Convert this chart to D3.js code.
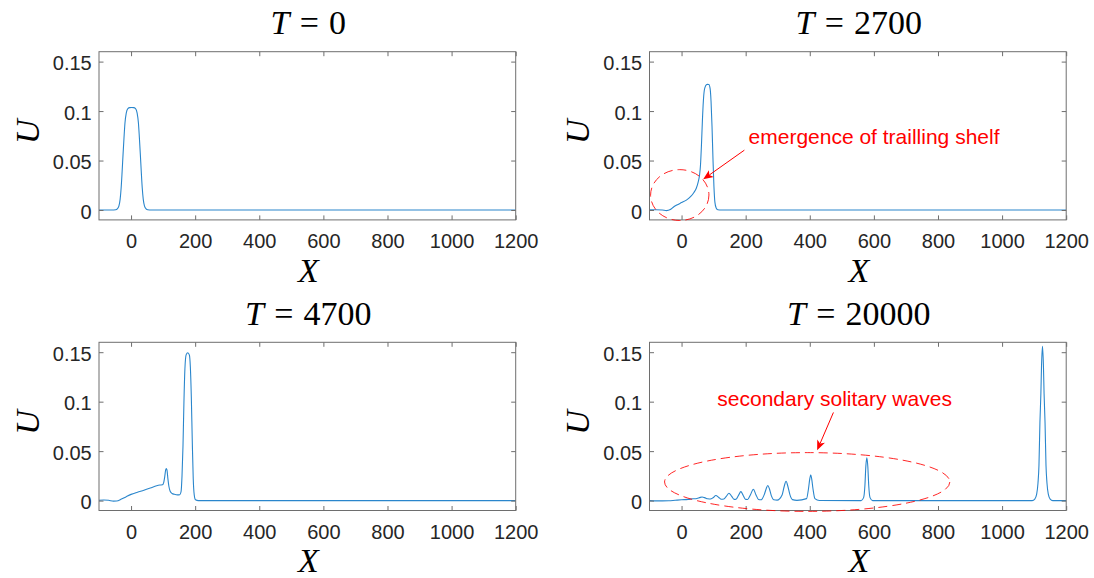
<!DOCTYPE html>
<html>
<head>
<meta charset="utf-8">
<script src="https://cdn.jsdelivr.net/npm/d3@7"></script>
<style>
  html, body { margin: 0; padding: 0; background: #ffffff; }
  svg { display: block; }
</style>
</head>
<body>
<div id="chart"></div>
<script>
// ---------------- data ----------------
const titleTimes = ["0", "2700", "4700", "20000"];
const xDomain = [-100, 1200];
const yDomain = [-0.01, 0.16];
const xTicks = [0, 200, 400, 600, 800, 1000, 1200];
const xTickLabels = ["0", "200", "400", "600", "800", "1000", "1200"];
const yTicks = [0, 0.05, 0.1, 0.15];
const yTickLabels = ["0", "0.05", "0.1", "0.15"];

// T = 0
const x_T0 = [-100, -60, -48, -43, -38, -34, -31, -28, -25, -22, -19, -15, -10, -4, 2, 8, 14, 19, 23, 26, 29, 32, 35, 38, 42, 47, 52, 64, 1200];
const u_T0 = [0, 0, 0.0003, 0.0012, 0.004, 0.011, 0.022, 0.038, 0.056, 0.073, 0.088, 0.098, 0.1025, 0.1035, 0.1036, 0.1035, 0.1025, 0.098, 0.088, 0.073, 0.056, 0.038, 0.022, 0.011, 0.004, 0.0012, 0.0003, 0, 0];

// T = 2700
const x_T2700 = [-100, -80, -60, -47, -35, -25, -15, 0, 15, 28, 38, 46, 52, 56, 59, 62, 65, 68, 71, 75, 80, 85, 89, 92, 95, 98, 101, 104, 108, 113, 125, 1200];
const u_T2700 = [0.0003, 0.0003, 0, -0.0006, 0.0005, 0.003, 0.005, 0.0075, 0.010, 0.0135, 0.0175, 0.022, 0.0285, 0.035, 0.045, 0.065, 0.09, 0.11, 0.121, 0.1255, 0.127, 0.1268, 0.123, 0.11, 0.085, 0.052, 0.024, 0.008, 0.002, 0.0003, 0, 0];

// T = 4700
const x_T4700 = [-100, -85, -70, -55, -45, -30, -15, 0, 20, 40, 60, 80, 90, 98, 102, 105, 108, 110, 112, 115, 118, 122, 128, 135, 145, 152, 156, 159, 162, 165, 168, 172, 177, 182, 185, 188, 191, 194, 197, 201, 210, 1200];
const u_T4700 = [0.0003, 0.0006, 0.0003, -0.0005, -0.0004, 0.0015, 0.004, 0.0063, 0.0085, 0.0105, 0.0127, 0.015, 0.0157, 0.016, 0.0185, 0.024, 0.031, 0.0325, 0.031, 0.022, 0.0145, 0.0095, 0.0072, 0.0064, 0.0058, 0.006, 0.009, 0.025, 0.055, 0.1, 0.133, 0.1475, 0.1495, 0.147, 0.135, 0.105, 0.06, 0.022, 0.006, 0.0008, 0, 0];

// T = 20000
const x_T20000 = [-100, -60, -40, -20, 0, 20, 35, 48, 56, 64, 72, 82, 90, 98, 107, 116, 124, 132, 140, 148, 156, 164, 170, 178, 185, 192, 200, 206, 215, 224, 232, 240, 248, 258, 264, 269, 274, 280, 288, 298, 314, 320, 326, 332, 338, 346, 360, 390, 396, 400, 403, 406, 410, 416, 430, 560, 568, 572, 575, 578, 581, 584, 588, 596, 1094, 1102, 1108, 1112, 1115, 1118, 1121, 1123, 1126, 1129, 1131, 1134, 1137, 1140, 1144, 1150, 1158, 1200];
const u_T20000 = [0, -0.0003, -0.0002, 0.0003, 0.0008, 0.0012, 0.0018, 0.0022, 0.003, 0.0037, 0.003, 0.0018, 0.0016, 0.0028, 0.0051, 0.0032, 0.0014, 0.0016, 0.0045, 0.0074, 0.0045, 0.0012, 0.0014, 0.0055, 0.0091, 0.0055, 0.0012, 0.0011, 0.006, 0.0115, 0.006, 0.0012, 0.0008, 0.006, 0.012, 0.0152, 0.012, 0.005, 0.0008, 0.0005, 0.006, 0.014, 0.0196, 0.014, 0.006, 0.001, 0.0002, 0.002, 0.012, 0.022, 0.0261, 0.022, 0.012, 0.002, 0.0001, 0, 0.003, 0.015, 0.035, 0.0433, 0.035, 0.015, 0.003, 0, 0, 0.0015, 0.0068, 0.0178, 0.0354, 0.0787, 0.108, 0.136, 0.156, 0.136, 0.108, 0.0787, 0.0354, 0.0178, 0.0068, 0.0015, 0, 0];

const seriesX = [x_T0, x_T2700, x_T4700, x_T20000];
const seriesU = [u_T0, u_T2700, u_T4700, u_T20000];

// annotations (in data units of their panel)
const annoText = ["emergence of trailling shelf", "secondary solitary waves"];
const annoPanel = [1, 3];

// ---------------- layout ----------------
const W = 1094, H = 578;
const panelLeft = [99, 649.5, 99, 649.5];
const panelTop = [51.7, 51.7, 342.3, 342.3];
const pw = 416.7, ph = 168.2;

const axisColor = "#262626";
const boxColor = "#6e6e6e";
const lineColor = "#2a86cc";
const red = "#ff0000";
const tickLen = 4.5;

const svg = d3.select("#chart").append("svg")
  .attr("width", W).attr("height", H)
  .attr("viewBox", `0 0 ${W} ${H}`);

const scales = [];

for (let i = 0; i < 4; i++) {
  const g = svg.append("g").attr("transform", `translate(${panelLeft[i]},${panelTop[i]})`);
  const x = d3.scaleLinear().domain(xDomain).range([0, pw]);
  const y = d3.scaleLinear().domain(yDomain).range([ph, 0]);
  scales.push({x, y, g});

  svg.append("clipPath").attr("id", "clip" + i)
    .append("rect").attr("x", 0).attr("y", 0).attr("width", pw).attr("height", ph);

  const pts = seriesX[i].map((xv, k) => [xv, seriesU[i][k]]);
  const line = d3.line().x(d => x(d[0])).y(d => y(d[1])).curve(d3.curveMonotoneX);
  g.append("path")
    .attr("d", line(pts))
    .attr("fill", "none")
    .attr("stroke", lineColor)
    .attr("stroke-width", 1.1)
    .attr("clip-path", `url(#clip${i})`);

  const fmtX = d => xTickLabels[xTicks.indexOf(d)];
  const fmtY = d => yTickLabels[yTicks.indexOf(d)];

  const bottom = g.append("g").attr("transform", `translate(0,${ph})`)
    .call(d3.axisBottom(x).tickValues(xTicks).tickFormat(fmtX).tickSizeInner(-tickLen).tickSizeOuter(0).tickPadding(13.8));
  const top = g.append("g")
    .call(d3.axisTop(x).tickValues(xTicks).tickFormat("").tickSizeInner(-tickLen).tickSizeOuter(0));
  const left = g.append("g")
    .call(d3.axisLeft(y).tickValues(yTicks).tickFormat(fmtY).tickSizeInner(-tickLen).tickSizeOuter(0).tickPadding(7.3));
  const right = g.append("g").attr("transform", `translate(${pw},0)`)
    .call(d3.axisRight(y).tickValues(yTicks).tickFormat("").tickSizeInner(-tickLen).tickSizeOuter(0));

  [bottom, top, left, right].forEach(a => {
    a.select(".domain").remove();
    a.selectAll(".tick line").attr("stroke", boxColor).attr("stroke-width", 1);
    a.selectAll("text")
      .attr("fill", axisColor)
      .style("font-family", "'Liberation Sans', Arial, sans-serif")
      .style("font-size", "20px");
  });
  left.selectAll("text").attr("dy", "0.40em");

  g.append("rect")
    .attr("x", 0).attr("y", 0).attr("width", pw).attr("height", ph)
    .attr("fill", "none").attr("stroke", boxColor).attr("stroke-width", 1);

  // title  T = value
  const t = g.append("text")
    .attr("x", pw / 2 + 1).attr("y", -17.4)
    .attr("text-anchor", "middle")
    .style("font-family", "'Liberation Serif', 'Times New Roman', serif")
    .style("font-size", "34px")
    .attr("fill", "#000");
  t.append("tspan").style("font-style", "italic").text("T");
  t.append("tspan").attr("dx", "0.3em").text("=");
  t.append("tspan").attr("dx", "0.3em").text(titleTimes[i]);

  // x label
  g.append("text")
    .attr("x", pw / 2 + 1).attr("y", ph + 62)
    .attr("text-anchor", "middle")
    .style("font-family", "'Liberation Serif', 'Times New Roman', serif")
    .style("font-size", "34px").style("font-style", "italic")
    .attr("fill", "#000")
    .text("X");

  // y label
  g.append("text")
    .attr("transform", `translate(${-60.5},${ph / 2 - 4}) rotate(-90)`)
    .attr("text-anchor", "middle")
    .style("font-family", "'Liberation Serif', 'Times New Roman', serif")
    .style("font-size", "34px").style("font-style", "italic")
    .attr("fill", "#000")
    .text("U");
}

// ---------------- annotations ----------------
function arrow(g, x, y, x0, u0, x1, u1) {
  const ax = x(x0), ay = y(u0), bx = x(x1), by = y(u1);
  const ang = Math.atan2(by - ay, bx - ax);
  const L = 10, Wd = 4.2, back = 7.5;
  const ux = Math.cos(ang), uy = Math.sin(ang);
  const px = -uy, py = ux;
  g.append("line")
    .attr("x1", ax).attr("y1", ay).attr("x2", bx - ux * back).attr("y2", by - uy * back)
    .attr("stroke", red).attr("stroke-width", 1);
  const p1 = [bx, by];
  const p2 = [bx - ux * L + px * Wd, by - uy * L + py * Wd];
  const p3 = [bx - ux * back, by - uy * back];
  const p4 = [bx - ux * L - px * Wd, by - uy * L - py * Wd];
  g.append("path")
    .attr("d", `M${p1}L${p2}L${p3}L${p4}Z`)
    .attr("fill", red).attr("stroke", "none");
}

{
  const {x, y, g} = scales[annoPanel[0]];
  g.append("ellipse")
    .attr("cx", x(-5.6)).attr("cy", y(0.0151))
    .attr("rx", x(91) - x(0)).attr("ry", y(0) - y(0.0257))
    .attr("fill", "none").attr("stroke", red).attr("stroke-width", 1)
    .attr("stroke-dasharray", "9,5").attr("opacity", 0.85);
  arrow(g, x, y, 196, 0.0605, 67.5, 0.031);
  g.append("text")
    .attr("x", x(209)).attr("y", y(0.0666))
    .attr("fill", red)
    .style("font-family", "'Liberation Sans', Arial, sans-serif")
    .style("font-size", "21px")
    .text(annoText[0]);
}

{
  const {x, y, g} = scales[annoPanel[1]];
  g.append("ellipse")
    .attr("cx", x(392)).attr("cy", y(0.0188))
    .attr("rx", x(445) - x(0)).attr("ry", y(0) - y(0.0297))
    .attr("fill", "none").attr("stroke", red).attr("stroke-width", 1)
    .attr("stroke-dasharray", "9,5").attr("opacity", 0.85);
  arrow(g, x, y, 473.8, 0.0891, 423, 0.0508);
  g.append("text")
    .attr("x", x(477.5)).attr("y", y(0.0955))
    .attr("text-anchor", "middle")
    .attr("fill", red)
    .style("font-family", "'Liberation Sans', Arial, sans-serif")
    .style("font-size", "21px")
    .text(annoText[1]);
}
</script>
</body>
</html>
